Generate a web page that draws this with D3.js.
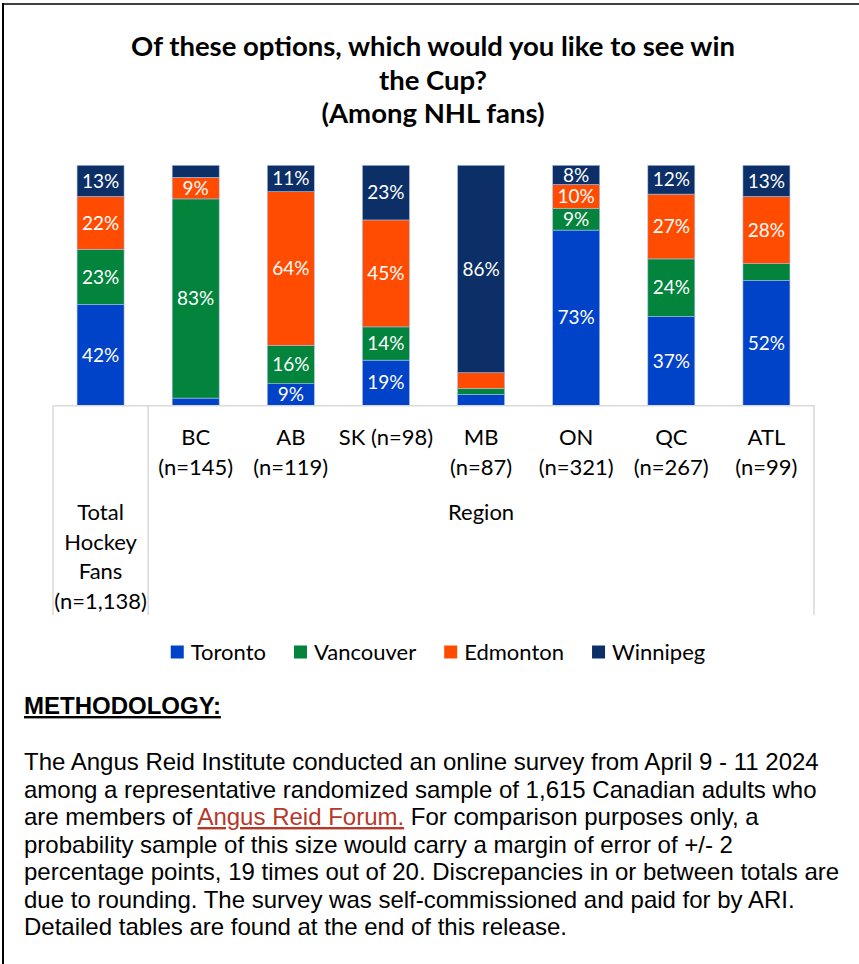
<!DOCTYPE html>
<html lang="en">
<head>
<meta charset="UTF-8">
<title>Win the Cup</title>
<script src="https://d3js.org/d3.v7.min.js"></script>
<style>
    body { margin: 0; background: #fff; }
    svg { display: block; }
</style>
</head>
<body>
<svg id="chart" width="859" height="964"></svg>
<script>
    // chart values (percent)
    const regions = ["Total", "BC", "AB", "SK", "MB", "ON", "QC", "ATL"];
    const regionLabels = [
        ["Total", "Hockey", "Fans", "(n=1,138)"],
        ["BC", "(n=145)"],
        ["AB", "(n=119)"],
        ["SK (n=98)"],
        ["MB", "(n=87)"],
        ["ON", "(n=321)"],
        ["QC", "(n=267)"],
        ["ATL", "(n=99)"]
    ];
    const teams = ["Toronto", "Vancouver", "Edmonton", "Winnipeg"];
    const toronto   = [42, 3, 9, 19, 4.5, 73, 37, 52];
    const vancouver = [23, 83, 16, 14, 2.5, 9, 24, 7];
    const edmonton  = [22, 9, 64, 45, 6.5, 10, 27, 28];
    const winnipeg  = [13, 5, 11, 23, 86, 8, 12, 13];
    const teamColors = ["#0042C8", "#02843D", "#FF4C00", "#0B2F66"];

    const titleLines = ["Of these options, which would you like to see win", "the Cup?", "(Among NHL fans)"];

    const methodLines = [
        [{t: "The Angus Reid Institute conducted an online survey from April 9 - 11 2024"}],
        [{t: "among a representative randomized sample of 1,615 Canadian adults who"}],
        [{t: "are members of "}, {t: "Angus Reid Forum.", link: true}, {t: " For comparison purposes only, a"}],
        [{t: "probability sample of this size would carry a margin of error of +/- 2"}],
        [{t: "percentage points, 19 times out of 20. Discrepancies in or between totals are"}],
        [{t: "due to rounding. The survey was self-commissioned and paid for by ARI."}],
        [{t: "Detailed tables are found at the end of this release."}]
    ];

    const svg = d3.select("#chart");
    const chartFont = "Lato, 'Open Sans', sans-serif";

    // frame
    svg.append("line")
        .attr("x1", 2).attr("y1", 4).attr("x2", 859).attr("y2", 4)
        .attr("stroke", "#000").attr("stroke-width", 1.5);
    svg.append("line")
        .attr("x1", 3).attr("y1", 3).attr("x2", 3).attr("y2", 964)
        .attr("stroke", "#000").attr("stroke-width", 2);

    // title
    svg.append("text")
        .attr("text-anchor", "middle")
        .attr("font-family", chartFont)
        .attr("font-weight", "bold")
        .attr("font-size", 27.5)
        .selectAll("tspan")
        .data(titleLines)
        .join("tspan")
        .attr("x", 433)
        .attr("y", (d, i) => 56 + i * 33.5)
        .text(d => d);

    // scales
    const plotLeft = 53, plotRight = 814, plotTop = 165.3, plotBottom = 405.3, tableBottom = 615;
    const x = d3.scaleBand()
        .domain(regions)
        .range([plotLeft, plotRight])
        .paddingInner(0.506)
        .paddingOuter(0.253);
    const y = d3.scaleLinear().domain([0, 1]).range([plotBottom, plotTop]);

    // stacked data
    const rows = regions.map((r, i) => ({
        region: r,
        Toronto: toronto[i],
        Vancouver: vancouver[i],
        Edmonton: edmonton[i],
        Winnipeg: winnipeg[i]
    }));
    const series = d3.stack()
        .keys(teams)
        .offset(d3.stackOffsetExpand)(rows);

    const groups = svg.append("g")
        .selectAll("g")
        .data(series)
        .join("g")
        .attr("fill", (d, i) => teamColors[i]);

    groups.selectAll("rect")
        .data(d => d)
        .join("rect")
        .attr("x", d => x(d.data.region))
        .attr("y", d => y(d[1]))
        .attr("width", x.bandwidth())
        .attr("height", d => y(d[0]) - y(d[1]))
        .attr("stroke", "#a9bde6")
        .attr("stroke-width", 0.6);

    // data labels
    groups.selectAll("text")
        .data(d => d.map(v => ({v: v, value: v.data[d.key]})).filter(d => d.value >= 8))
        .join("text")
        .attr("x", d => x(d.v.data.region) + x.bandwidth() / 2)
        .attr("y", d => (y(d.v[0]) + y(d.v[1])) / 2)
        .attr("dy", "0.35em")
        .attr("text-anchor", "middle")
        .attr("font-family", chartFont)
        .attr("font-size", 19)
        .attr("fill", "#fff")
        .text(d => d.value + "%");

    // x axis (domain line only)
    const axis = svg.append("g")
        .attr("transform", `translate(0,${plotBottom})`)
        .call(d3.axisBottom(x).tickSize(0).tickSizeOuter(0).tickFormat(""));
    axis.select(".domain").attr("stroke", "#d9d9d9").attr("stroke-width", 1.5);

    // divider lines of the table-like axis
    const dividers = [plotLeft, plotLeft + x.step(), plotRight];
    svg.append("g")
        .selectAll("line")
        .data(dividers)
        .join("line")
        .attr("x1", d => d).attr("x2", d => d)
        .attr("y1", plotBottom).attr("y2", tableBottom)
        .attr("stroke", "#d9d9d9")
        .attr("stroke-width", 1.5);

    // category labels
    const labelG = svg.append("g")
        .attr("font-family", chartFont)
        .attr("font-size", 22)
        .attr("fill", "#000")
        .attr("text-anchor", "middle");
    regions.forEach((r, i) => {
        const lines = regionLabels[i];
        const cx = x(r) + x.bandwidth() / 2;
        const y0 = i === 0 ? 520 : 445;
        labelG.append("text")
            .selectAll("tspan")
            .data(lines)
            .join("tspan")
            .attr("x", cx)
            .attr("y", (d, j) => y0 + j * 29.5)
            .text(d => d);
    });
    labelG.append("text")
        .attr("x", (plotLeft + x.step() + plotRight) / 2)
        .attr("y", 520)
        .text("Region");

    // legend
    const legend = svg.append("g")
        .attr("font-family", chartFont)
        .attr("font-size", 22);
    let lx = 0;
    teams.forEach((t, i) => {
        const item = legend.append("g").attr("transform", `translate(${lx},0)`);
        item.append("rect")
            .attr("x", 0).attr("y", -6.5)
            .attr("width", 13).attr("height", 13)
            .attr("fill", teamColors[i]);
        const txt = item.append("text")
            .attr("x", 20).attr("dy", "0.35em")
            .attr("fill", "#000")
            .text(t);
        lx += 20 + txt.node().getComputedTextLength() + 28;
    });
    const legendW = lx - 28;
    legend.attr("transform", `translate(${438 - legendW / 2},652)`);

    // methodology
    svg.append("text")
        .attr("x", 24).attr("y", 714)
        .attr("font-family", "'Liberation Sans', Arial, sans-serif")
        .attr("font-weight", "bold")
        .attr("font-size", 24)
        .attr("text-decoration", "underline")
        .attr("fill", "#000")
        .text("METHODOLOGY:");

    const body = svg.append("text")
        .attr("font-family", "'Liberation Sans', Arial, sans-serif")
        .attr("font-size", 24)
        .attr("fill", "#000");
    methodLines.forEach((segs, i) => {
        segs.forEach((s, j) => {
            const sp = body.append("tspan").text(s.t);
            if (j === 0) sp.attr("x", 24).attr("y", 770 + i * 27.5);
            if (s.link) {
                sp.attr("fill", "#B5382B").attr("text-decoration", "underline");
            }
        });
    });
</script>
</body>
</html>
